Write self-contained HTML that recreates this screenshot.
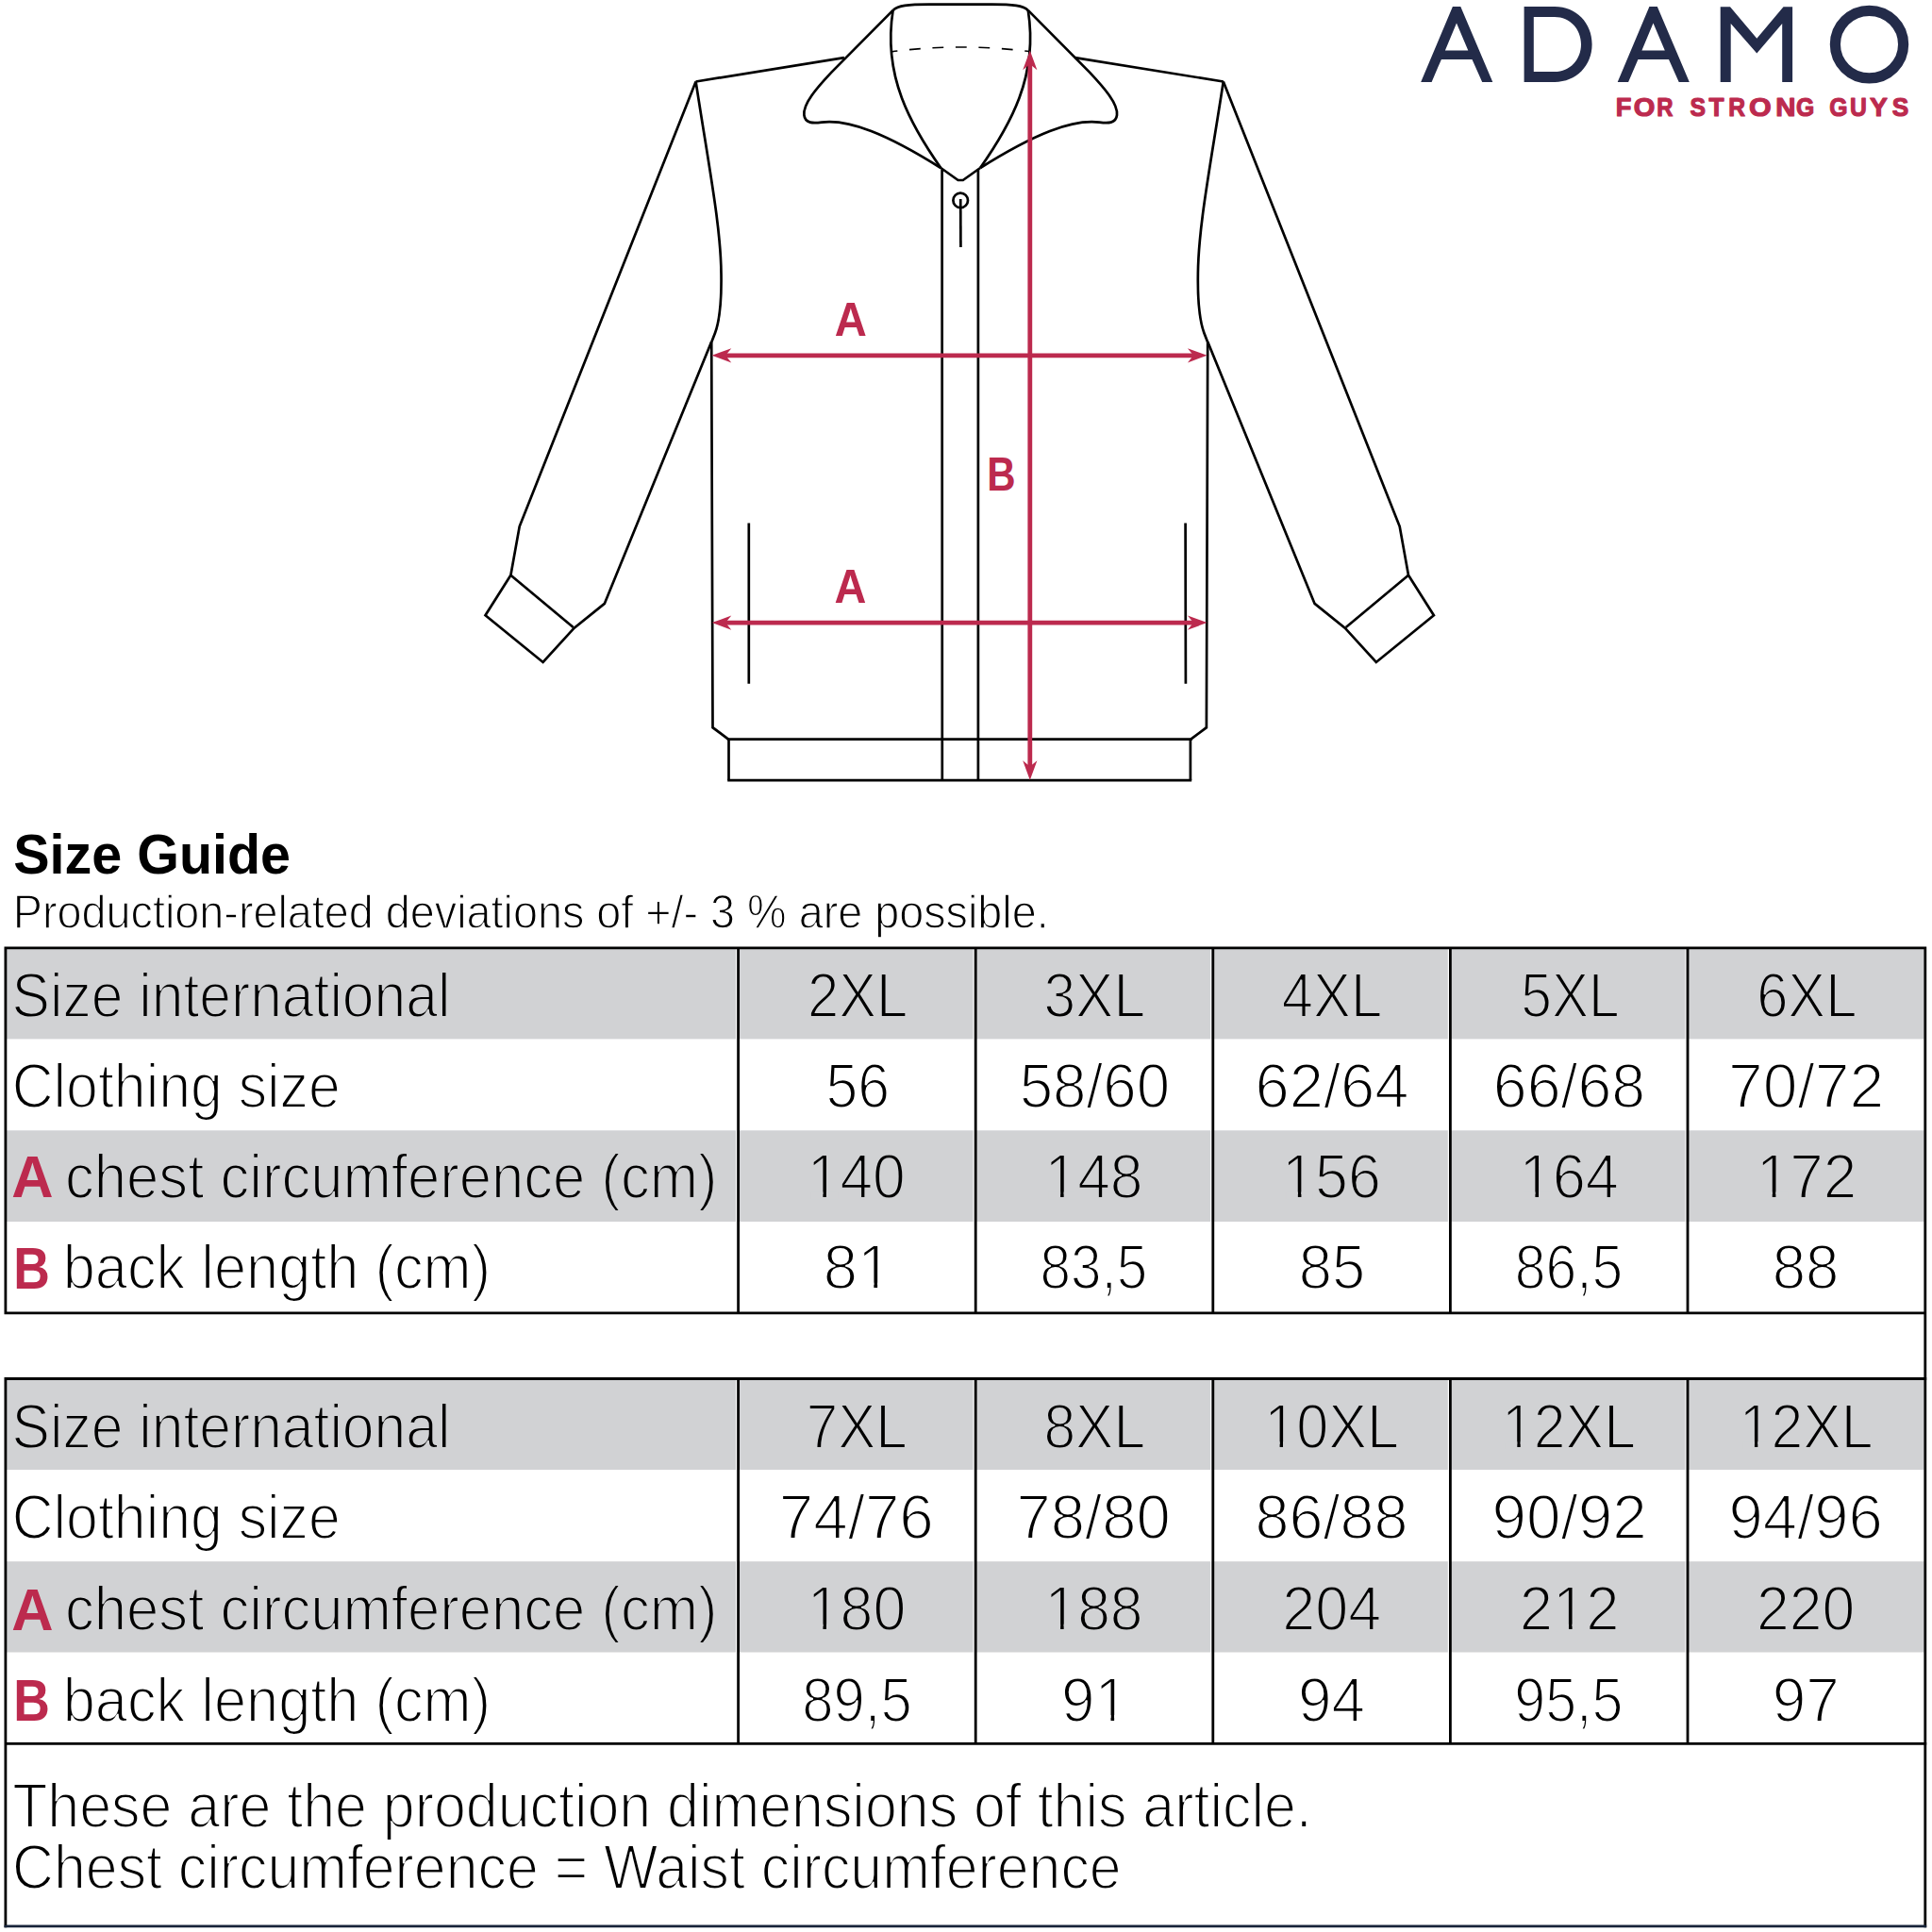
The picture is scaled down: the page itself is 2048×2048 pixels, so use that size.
<!DOCTYPE html>
<html><head><meta charset="utf-8"><style>
html,body{margin:0;padding:0;background:#fff;width:2048px;height:2048px;overflow:hidden}
svg{display:block}
</style></head><body>
<svg width="2048" height="2048" viewBox="0 0 2048 2048">
<rect width="2048" height="2048" fill="#fff"/>
<g fill="none" stroke="#000" stroke-width="2.7" stroke-linejoin="miter" stroke-linecap="butt">

<path d="M894.9,61.1 L737.6,86.5" />
<path d="M737.6,86.5 C752,180 764,240 764.5,290 C765,320 762,342 758,353 L754.4,362.3" />
<path d="M737.6,86.5 L550.7,558.1 L541.4,609.8 L514.5,652.3 L575.6,702 L608.7,665.7 L640.8,639.9 L754.2,362.3" />
<path d="M541.4,609.8 L607.7,665" />
<path d="M754.2,362.3 L755.5,771.2 L772.1,783.6" />
<path d="M772.5,783.6 L772.5,827.1" />

<g transform="translate(2034.4,0) scale(-1,1)">
<path d="M894.9,61.1 L737.6,86.5" />
<path d="M737.6,86.5 C752,180 764,240 764.5,290 C765,320 762,342 758,353 L754.4,362.3" />
<path d="M737.6,86.5 L550.7,558.1 L541.4,609.8 L514.5,652.3 L575.6,702 L608.7,665.7 L640.8,639.9 L754.2,362.3" />
<path d="M541.4,609.8 L607.7,665" />
<path d="M754.2,362.3 L755.5,771.2 L772.1,783.6" />
<path d="M772.5,783.6 L772.5,827.1" />
</g>

<path d="M946.6,10.9 L881.4,76.6 C866,93 851,110 852.4,122 C853.5,131 862,130.8 871,129.6 C900,126 940,142 997.3,178" />
<path d="M946.6,10.9 C942,40 944,72 956,104 C965,128 979,152 997.3,178" />

<g transform="translate(2036.4,0) scale(-1,1)">
<path d="M946.6,10.9 L881.4,76.6 C866,93 851,110 852.4,122 C853.5,131 862,130.8 871,129.6 C900,126 940,142 997.3,178" />
<path d="M946.6,10.9 C942,40 944,72 956,104 C965,128 979,152 997.3,178" />
</g>
<path d="M946.6,10.9 C952,6 962,4.6 985,4.6 L1051.4,4.6 C1074.4,4.6 1084.4,6 1089.8,10.9" /><path d="M997.3,178 L1015.6,191 L1020.8,191 L1039.1,178" stroke-linejoin="round" />
<path d="M998.6,180 L998.8,827.1 M1036.9,180 L1036.9,827.1" />
<path d="M770.8,783.6 L1263.6,783.6 M771.2,827.1 L1263.2,827.1" />
<circle cx="1018.2" cy="212.4" r="7.8" /><path d="M1018.2,211 L1018.4,262" />
<path d="M793.8,554.5 L793.8,724.8 M1256.6,554.5 L1256.9,724.8" />
<path d="M945.8,54.7 Q1019,45.3 1092.2,54.7" stroke-dasharray="11.8 12.7" stroke-dashoffset="6.2" stroke-width="1.6"/>
</g>
<g stroke="#BC2A4E" stroke-width="4.8" fill="none">
<path d="M1091.8,66 L1091.8,815" />
<path d="M767,376.8 L1267,376.8" />
<path d="M767,660.1 L1267,660.1" />
</g>
<path d="M1091.8,53.6 L1099.4,74.3 L1091.8,68.1 L1084.2,74.3 Z" fill="#BC2A4E" stroke="none"/>
<path d="M1091.8,827.0 L1084.2,806.3 L1091.8,812.5 L1099.4,806.3 Z" fill="#BC2A4E" stroke="none"/>
<path d="M754.6,376.8 L775.3,369.2 L769.1,376.8 L775.3,384.4 Z" fill="#BC2A4E" stroke="none"/>
<path d="M1279.6,376.8 L1258.9,384.4 L1265.1,376.8 L1258.9,369.2 Z" fill="#BC2A4E" stroke="none"/>
<path d="M754.6,660.1 L775.3,652.5 L769.1,660.1 L775.3,667.7 Z" fill="#BC2A4E" stroke="none"/>
<path d="M1279.6,660.1 L1258.9,667.7 L1265.1,660.1 L1258.9,652.5 Z" fill="#BC2A4E" stroke="none"/>
<path d="M1506.2,86.9 L1539.9,7.1 L1548.3,7.1 L1582.3,86.9 L1571.2,86.9 L1560.5,62.9 L1527.9,62.9 L1517.6,86.9 Z M1544,24.6 L1556.3,53.4 L1531.9,53.4 Z" fill="#232B49" fill-rule="evenodd"/>
<path d="M1714.7,86.9 L1748.4,7.1 L1756.8,7.1 L1790.8,86.9 L1779.7,86.9 L1769.0,62.9 L1736.4,62.9 L1726.1,86.9 Z M1752.5,24.6 L1764.8,53.4 L1740.4,53.4 Z" fill="#232B49" fill-rule="evenodd"/>
<path d="M1615.6,7.1 H1648 C1671,7.1 1687.6,24.5 1687.6,47 C1687.6,69.5 1671,86.9 1648,86.9 H1615.6 Z M1625.8,18 H1648 C1664.5,18 1676,31 1676,47 C1676,63 1664.5,76.1 1648,76.1 H1625.8 Z" fill="#232B49" fill-rule="evenodd"/>
<path d="M1823.7,86.9 L1823.7,7.3 L1834,7.3 L1862.3,40.8 L1890.5,7.3 L1900.1,7.3 L1900.1,86.9 L1889.2,86.9 L1889.2,25 L1862.3,56.5 L1834.7,25 L1834.7,86.9 Z" fill="#232B49"/>
<ellipse cx="1981.5" cy="47.1" rx="36.1" ry="35.8" fill="none" stroke="#232B49" stroke-width="11.2"/>
<rect x="7" y="1006" width="2032.5" height="95.4" fill="#D1D2D4"/>
<rect x="7" y="1198.3" width="2032.5" height="96.7" fill="#D1D2D4"/>
<rect x="7" y="1462.8" width="2032.5" height="95.2" fill="#D1D2D4"/>
<rect x="7" y="1655.2" width="2032.5" height="96.3" fill="#D1D2D4"/>
<g stroke="#fff" stroke-width="1.2">
<path d="M780.6,1004.9 L780.6,1391.8 M780.6,1461.5 L780.6,1848.3" />
<path d="M1032.2,1004.9 L1032.2,1391.8 M1032.2,1461.5 L1032.2,1848.3" />
<path d="M1283.8,1004.9 L1283.8,1391.8 M1283.8,1461.5 L1283.8,1848.3" />
<path d="M1535.4,1004.9 L1535.4,1391.8 M1535.4,1461.5 L1535.4,1848.3" />
<path d="M1787.0,1004.9 L1787.0,1391.8 M1787.0,1461.5 L1787.0,1848.3" />
</g>
<g stroke="#000" stroke-width="2.8" fill="none">
<path d="M4.6,1004.9 L2042.2,1004.9 M5.9,1003.5 L5.9,1393.2 M4.6,1391.8 L2042.2,1391.8 M2040.8,1003.5 L2040.8,2043.2" />
<path d="M4.6,1461.5 L2042.2,1461.5 M5.9,1460.1 L5.9,2043.2 M4.6,1848.3 L2042.2,1848.3" />
<path d="M782.6,1004.9 L782.6,1391.8 M782.6,1461.5 L782.6,1848.3" />
<path d="M1034.2,1004.9 L1034.2,1391.8 M1034.2,1461.5 L1034.2,1848.3" />
<path d="M1285.8,1004.9 L1285.8,1391.8 M1285.8,1461.5 L1285.8,1848.3" />
<path d="M1537.4,1004.9 L1537.4,1391.8 M1537.4,1461.5 L1537.4,1848.3" />
<path d="M1789.0,1004.9 L1789.0,1391.8 M1789.0,1461.5 L1789.0,1848.3" />
</g>
<path d="M4.6,2041.8 L2042.2,2041.8" stroke="#18243a" stroke-width="2.8"/>
<text x="12.59" y="1078.2" font-family="Liberation Sans" font-size="67" font-weight="400" fill="#000" stroke="#D1D2D4" stroke-width="2.0" textLength="464.82" lengthAdjust="spacingAndGlyphs">Size international</text>
<text x="12.68" y="1173.9" font-family="Liberation Sans" font-size="67" font-weight="400" fill="#000" stroke="#fff" stroke-width="2.0" textLength="348.19" lengthAdjust="spacingAndGlyphs">Clothing size</text>
<text x="12.35" y="1269.4" font-family="Liberation Sans" font-size="63" font-weight="700" fill="#BC2A4E" textLength="44.31" lengthAdjust="spacingAndGlyphs">A</text>
<text x="69.04" y="1270.2" font-family="Liberation Sans" font-size="67" font-weight="400" fill="#000" stroke="#D1D2D4" stroke-width="2.0" textLength="691.49" lengthAdjust="spacingAndGlyphs">chest circumference (cm)</text>
<text x="14.21" y="1365.6000000000001" font-family="Liberation Sans" font-size="63" font-weight="700" fill="#BC2A4E" textLength="38.62" lengthAdjust="spacingAndGlyphs">B</text>
<text x="66.74" y="1366.4" font-family="Liberation Sans" font-size="67" font-weight="400" fill="#000" stroke="#fff" stroke-width="2.0" textLength="453.35" lengthAdjust="spacingAndGlyphs">back length (cm)</text>
<text x="12.59" y="1534.9" font-family="Liberation Sans" font-size="67" font-weight="400" fill="#000" stroke="#D1D2D4" stroke-width="2.0" textLength="464.82" lengthAdjust="spacingAndGlyphs">Size international</text>
<text x="12.68" y="1631.2" font-family="Liberation Sans" font-size="67" font-weight="400" fill="#000" stroke="#fff" stroke-width="2.0" textLength="348.19" lengthAdjust="spacingAndGlyphs">Clothing size</text>
<text x="12.35" y="1727.6000000000001" font-family="Liberation Sans" font-size="63" font-weight="700" fill="#BC2A4E" textLength="44.31" lengthAdjust="spacingAndGlyphs">A</text>
<text x="69.04" y="1728.4" font-family="Liberation Sans" font-size="67" font-weight="400" fill="#000" stroke="#D1D2D4" stroke-width="2.0" textLength="691.49" lengthAdjust="spacingAndGlyphs">chest circumference (cm)</text>
<text x="14.21" y="1823.9" font-family="Liberation Sans" font-size="63" font-weight="700" fill="#BC2A4E" textLength="38.62" lengthAdjust="spacingAndGlyphs">B</text>
<text x="66.74" y="1824.7" font-family="Liberation Sans" font-size="67" font-weight="400" fill="#000" stroke="#fff" stroke-width="2.0" textLength="453.35" lengthAdjust="spacingAndGlyphs">back length (cm)</text>
<text x="856.03" y="1078.2" font-family="Liberation Sans" font-size="67" font-weight="400" fill="#000" stroke="#D1D2D4" stroke-width="2.0" textLength="106.25" lengthAdjust="spacingAndGlyphs">2XL</text>
<text x="1106.39" y="1078.2" font-family="Liberation Sans" font-size="67" font-weight="400" fill="#000" stroke="#D1D2D4" stroke-width="2.0" textLength="107.72" lengthAdjust="spacingAndGlyphs">3XL</text>
<text x="1358.81" y="1078.2" font-family="Liberation Sans" font-size="67" font-weight="400" fill="#000" stroke="#D1D2D4" stroke-width="2.0" textLength="106.47" lengthAdjust="spacingAndGlyphs">4XL</text>
<text x="1612.27" y="1078.2" font-family="Liberation Sans" font-size="67" font-weight="400" fill="#000" stroke="#D1D2D4" stroke-width="2.0" textLength="104.47" lengthAdjust="spacingAndGlyphs">5XL</text>
<text x="1862.13" y="1078.2" font-family="Liberation Sans" font-size="67" font-weight="400" fill="#000" stroke="#D1D2D4" stroke-width="2.0" textLength="106.25" lengthAdjust="spacingAndGlyphs">6XL</text>
<text x="875.48" y="1173.9" font-family="Liberation Sans" font-size="67" font-weight="400" fill="#000" stroke="#fff" stroke-width="2.0" textLength="67.62" lengthAdjust="spacingAndGlyphs">56</text>
<text x="1080.65" y="1173.9" font-family="Liberation Sans" font-size="67" font-weight="400" fill="#000" stroke="#fff" stroke-width="2.0" textLength="159.50" lengthAdjust="spacingAndGlyphs">58/60</text>
<text x="1330.48" y="1173.9" font-family="Liberation Sans" font-size="67" font-weight="400" fill="#000" stroke="#fff" stroke-width="2.0" textLength="163.15" lengthAdjust="spacingAndGlyphs">62/64</text>
<text x="1582.81" y="1173.9" font-family="Liberation Sans" font-size="67" font-weight="400" fill="#000" stroke="#fff" stroke-width="2.0" textLength="161.36" lengthAdjust="spacingAndGlyphs">66/68</text>
<text x="1832.04" y="1173.9" font-family="Liberation Sans" font-size="67" font-weight="400" fill="#000" stroke="#fff" stroke-width="2.0" textLength="165.17" lengthAdjust="spacingAndGlyphs">70/72</text>
<text x="855.71" y="1270.2" font-family="Liberation Sans" font-size="67" font-weight="400" fill="#000" stroke="#D1D2D4" stroke-width="2.0" textLength="104.09" lengthAdjust="spacingAndGlyphs">140</text><rect x="859.98" y="1263.47" width="12.42" height="8.23" fill="#D1D2D4"/><rect x="875.91" y="1263.47" width="11.94" height="8.23" fill="#D1D2D4"/>
<text x="1107.41" y="1270.2" font-family="Liberation Sans" font-size="67" font-weight="400" fill="#000" stroke="#D1D2D4" stroke-width="2.0" textLength="104.20" lengthAdjust="spacingAndGlyphs">148</text><rect x="1111.68" y="1263.47" width="12.43" height="8.23" fill="#D1D2D4"/><rect x="1127.63" y="1263.47" width="11.95" height="8.23" fill="#D1D2D4"/>
<text x="1359.08" y="1270.2" font-family="Liberation Sans" font-size="67" font-weight="400" fill="#000" stroke="#D1D2D4" stroke-width="2.0" textLength="104.74" lengthAdjust="spacingAndGlyphs">156</text><rect x="1363.37" y="1263.47" width="12.49" height="8.23" fill="#D1D2D4"/><rect x="1379.41" y="1263.47" width="12.00" height="8.23" fill="#D1D2D4"/>
<text x="1610.54" y="1270.2" font-family="Liberation Sans" font-size="67" font-weight="400" fill="#000" stroke="#D1D2D4" stroke-width="2.0" textLength="105.45" lengthAdjust="spacingAndGlyphs">164</text><rect x="1614.86" y="1263.47" width="12.57" height="8.23" fill="#D1D2D4"/><rect x="1631.02" y="1263.47" width="12.08" height="8.23" fill="#D1D2D4"/>
<text x="1861.68" y="1270.2" font-family="Liberation Sans" font-size="67" font-weight="400" fill="#000" stroke="#D1D2D4" stroke-width="2.0" textLength="106.54" lengthAdjust="spacingAndGlyphs">172</text><rect x="1866.05" y="1263.47" width="12.69" height="8.23" fill="#D1D2D4"/><rect x="1882.38" y="1263.47" width="12.19" height="8.23" fill="#D1D2D4"/>
<text x="872.68" y="1366.4" font-family="Liberation Sans" font-size="67" font-weight="400" fill="#000" stroke="#fff" stroke-width="2.0" textLength="72.57" lengthAdjust="spacingAndGlyphs">81</text><rect x="913.41" y="1359.67" width="12.95" height="8.23" fill="#fff"/><rect x="930.12" y="1359.67" width="12.44" height="8.23" fill="#fff"/>
<text x="1102.58" y="1366.4" font-family="Liberation Sans" font-size="67" font-weight="400" fill="#000" stroke="#fff" stroke-width="2.0" textLength="113.71" lengthAdjust="spacingAndGlyphs">83,5</text>
<text x="1376.77" y="1366.4" font-family="Liberation Sans" font-size="67" font-weight="400" fill="#000" stroke="#fff" stroke-width="2.0" textLength="70.43" lengthAdjust="spacingAndGlyphs">85</text>
<text x="1605.76" y="1366.4" font-family="Liberation Sans" font-size="67" font-weight="400" fill="#000" stroke="#fff" stroke-width="2.0" textLength="114.55" lengthAdjust="spacingAndGlyphs">86,5</text>
<text x="1878.76" y="1366.4" font-family="Liberation Sans" font-size="67" font-weight="400" fill="#000" stroke="#fff" stroke-width="2.0" textLength="70.64" lengthAdjust="spacingAndGlyphs">88</text>
<text x="854.71" y="1534.9" font-family="Liberation Sans" font-size="67" font-weight="400" fill="#000" stroke="#D1D2D4" stroke-width="2.0" textLength="107.09" lengthAdjust="spacingAndGlyphs">7XL</text>
<text x="1106.39" y="1534.9" font-family="Liberation Sans" font-size="67" font-weight="400" fill="#000" stroke="#D1D2D4" stroke-width="2.0" textLength="107.72" lengthAdjust="spacingAndGlyphs">8XL</text>
<text x="1340.22" y="1534.9" font-family="Liberation Sans" font-size="67" font-weight="400" fill="#000" stroke="#D1D2D4" stroke-width="2.0" textLength="142.84" lengthAdjust="spacingAndGlyphs">10XL</text><rect x="1344.40" y="1528.17" width="12.20" height="8.23" fill="#D1D2D4"/><rect x="1360.01" y="1528.17" width="11.72" height="8.23" fill="#D1D2D4"/>
<text x="1592.06" y="1534.9" font-family="Liberation Sans" font-size="67" font-weight="400" fill="#000" stroke="#D1D2D4" stroke-width="2.0" textLength="141.89" lengthAdjust="spacingAndGlyphs">12XL</text><rect x="1596.21" y="1528.17" width="12.12" height="8.23" fill="#D1D2D4"/><rect x="1611.71" y="1528.17" width="11.65" height="8.23" fill="#D1D2D4"/>
<text x="1843.66" y="1534.9" font-family="Liberation Sans" font-size="67" font-weight="400" fill="#000" stroke="#D1D2D4" stroke-width="2.0" textLength="141.89" lengthAdjust="spacingAndGlyphs">12XL</text><rect x="1847.81" y="1528.17" width="12.12" height="8.23" fill="#D1D2D4"/><rect x="1863.31" y="1528.17" width="11.65" height="8.23" fill="#D1D2D4"/>
<text x="825.76" y="1631.2" font-family="Liberation Sans" font-size="67" font-weight="400" fill="#000" stroke="#fff" stroke-width="2.0" textLength="164.05" lengthAdjust="spacingAndGlyphs">74/76</text>
<text x="1077.48" y="1631.2" font-family="Liberation Sans" font-size="67" font-weight="400" fill="#000" stroke="#fff" stroke-width="2.0" textLength="163.32" lengthAdjust="spacingAndGlyphs">78/80</text>
<text x="1330.50" y="1631.2" font-family="Liberation Sans" font-size="67" font-weight="400" fill="#000" stroke="#fff" stroke-width="2.0" textLength="161.98" lengthAdjust="spacingAndGlyphs">86/88</text>
<text x="1581.46" y="1631.2" font-family="Liberation Sans" font-size="67" font-weight="400" fill="#000" stroke="#fff" stroke-width="2.0" textLength="164.34" lengthAdjust="spacingAndGlyphs">90/92</text>
<text x="1832.48" y="1631.2" font-family="Liberation Sans" font-size="67" font-weight="400" fill="#000" stroke="#fff" stroke-width="2.0" textLength="163.32" lengthAdjust="spacingAndGlyphs">94/96</text>
<text x="855.68" y="1728.4" font-family="Liberation Sans" font-size="67" font-weight="400" fill="#000" stroke="#D1D2D4" stroke-width="2.0" textLength="104.63" lengthAdjust="spacingAndGlyphs">180</text><rect x="859.97" y="1721.67" width="12.48" height="8.23" fill="#D1D2D4"/><rect x="875.99" y="1721.67" width="11.99" height="8.23" fill="#D1D2D4"/>
<text x="1107.41" y="1728.4" font-family="Liberation Sans" font-size="67" font-weight="400" fill="#000" stroke="#D1D2D4" stroke-width="2.0" textLength="104.20" lengthAdjust="spacingAndGlyphs">188</text><rect x="1111.68" y="1721.67" width="12.43" height="8.23" fill="#D1D2D4"/><rect x="1127.63" y="1721.67" width="11.95" height="8.23" fill="#D1D2D4"/>
<text x="1359.29" y="1728.4" font-family="Liberation Sans" font-size="67" font-weight="400" fill="#000" stroke="#D1D2D4" stroke-width="2.0" textLength="104.90" lengthAdjust="spacingAndGlyphs">204</text>
<text x="1610.76" y="1728.4" font-family="Liberation Sans" font-size="67" font-weight="400" fill="#000" stroke="#D1D2D4" stroke-width="2.0" textLength="105.83" lengthAdjust="spacingAndGlyphs">212</text><rect x="1650.36" y="1721.67" width="12.61" height="8.23" fill="#D1D2D4"/><rect x="1666.58" y="1721.67" width="12.12" height="8.23" fill="#D1D2D4"/>
<text x="1862.10" y="1728.4" font-family="Liberation Sans" font-size="67" font-weight="400" fill="#000" stroke="#D1D2D4" stroke-width="2.0" textLength="104.20" lengthAdjust="spacingAndGlyphs">220</text>
<text x="850.22" y="1824.7" font-family="Liberation Sans" font-size="67" font-weight="400" fill="#000" stroke="#fff" stroke-width="2.0" textLength="116.43" lengthAdjust="spacingAndGlyphs">89,5</text>
<text x="1125.05" y="1824.7" font-family="Liberation Sans" font-size="67" font-weight="400" fill="#000" stroke="#fff" stroke-width="2.0" textLength="70.87" lengthAdjust="spacingAndGlyphs">91</text><rect x="1164.82" y="1817.97" width="12.67" height="8.23" fill="#fff"/><rect x="1181.12" y="1817.97" width="12.17" height="8.23" fill="#fff"/>
<text x="1375.94" y="1824.7" font-family="Liberation Sans" font-size="67" font-weight="400" fill="#000" stroke="#fff" stroke-width="2.0" textLength="71.02" lengthAdjust="spacingAndGlyphs">94</text>
<text x="1605.25" y="1824.7" font-family="Liberation Sans" font-size="67" font-weight="400" fill="#000" stroke="#fff" stroke-width="2.0" textLength="115.07" lengthAdjust="spacingAndGlyphs">95,5</text>
<text x="1878.74" y="1824.7" font-family="Liberation Sans" font-size="67" font-weight="400" fill="#000" stroke="#fff" stroke-width="2.0" textLength="71.13" lengthAdjust="spacingAndGlyphs">97</text>
<text x="14.18" y="926.3" font-family="Liberation Sans" font-size="60" font-weight="700" fill="#000" textLength="293.89" lengthAdjust="spacingAndGlyphs">Size Guide</text>
<text x="13.85" y="984.3" font-family="Liberation Sans" font-size="50.5" font-weight="400" fill="#000" stroke="#fff" stroke-width="1.3" textLength="1097.85" lengthAdjust="spacingAndGlyphs">Production-related deviations of +/- 3 % are possible.</text>
<text x="13.18" y="1936.6" font-family="Liberation Sans" font-size="67" font-weight="400" fill="#000" stroke="#fff" stroke-width="2.0" textLength="1377.54" lengthAdjust="spacingAndGlyphs">These are the production dimensions of this article.</text>
<text x="13.08" y="2001.8" font-family="Liberation Sans" font-size="67" font-weight="400" fill="#000" stroke="#fff" stroke-width="2.0" textLength="1175.56" lengthAdjust="spacingAndGlyphs">Chest circumference = Waist circumference</text>
<text x="884.66" y="356.1" font-family="Liberation Sans" font-size="50" font-weight="700" fill="#BC2A4E" textLength="34.09" lengthAdjust="spacingAndGlyphs">A</text>
<text x="884.56" y="639.3" font-family="Liberation Sans" font-size="50" font-weight="700" fill="#BC2A4E" textLength="33.88" lengthAdjust="spacingAndGlyphs">A</text>
<text x="1046.30" y="519.9" font-family="Liberation Sans" font-size="50.5" font-weight="700" fill="#BC2A4E" textLength="30.36" lengthAdjust="spacingAndGlyphs">B</text>
<text x="1712.66" y="122.9" font-family="Liberation Sans" font-size="28" font-weight="700" fill="#BC2A4E" stroke="#BC2A4E" stroke-width="1.2" stroke-linejoin="round" textLength="16.62" lengthAdjust="spacingAndGlyphs">F</text>
<text x="1731.66" y="122.9" font-family="Liberation Sans" font-size="28" font-weight="700" fill="#BC2A4E" stroke="#BC2A4E" stroke-width="1.2" stroke-linejoin="round" textLength="22.54" lengthAdjust="spacingAndGlyphs">O</text>
<text x="1756.19" y="122.9" font-family="Liberation Sans" font-size="28" font-weight="700" fill="#BC2A4E" stroke="#BC2A4E" stroke-width="1.2" stroke-linejoin="round" textLength="17.26" lengthAdjust="spacingAndGlyphs">R</text>
<text x="1791.62" y="122.9" font-family="Liberation Sans" font-size="28" font-weight="700" fill="#BC2A4E" stroke="#BC2A4E" stroke-width="1.2" stroke-linejoin="round" textLength="16.49" lengthAdjust="spacingAndGlyphs">S</text>
<text x="1811.40" y="122.9" font-family="Liberation Sans" font-size="28" font-weight="700" fill="#BC2A4E" stroke="#BC2A4E" stroke-width="1.2" stroke-linejoin="round" textLength="16.00" lengthAdjust="spacingAndGlyphs">T</text>
<text x="1832.14" y="122.9" font-family="Liberation Sans" font-size="28" font-weight="700" fill="#BC2A4E" stroke="#BC2A4E" stroke-width="1.2" stroke-linejoin="round" textLength="17.85" lengthAdjust="spacingAndGlyphs">R</text>
<text x="1854.01" y="122.9" font-family="Liberation Sans" font-size="28" font-weight="700" fill="#BC2A4E" stroke="#BC2A4E" stroke-width="1.2" stroke-linejoin="round" textLength="23.63" lengthAdjust="spacingAndGlyphs">O</text>
<text x="1882.20" y="122.9" font-family="Liberation Sans" font-size="28" font-weight="700" fill="#BC2A4E" stroke="#BC2A4E" stroke-width="1.2" stroke-linejoin="round" textLength="21.25" lengthAdjust="spacingAndGlyphs">N</text>
<text x="1904.12" y="122.9" font-family="Liberation Sans" font-size="28" font-weight="700" fill="#BC2A4E" stroke="#BC2A4E" stroke-width="1.2" stroke-linejoin="round" textLength="19.26" lengthAdjust="spacingAndGlyphs">G</text>
<text x="1939.32" y="122.9" font-family="Liberation Sans" font-size="28" font-weight="700" fill="#BC2A4E" stroke="#BC2A4E" stroke-width="1.2" stroke-linejoin="round" textLength="19.26" lengthAdjust="spacingAndGlyphs">G</text>
<text x="1960.94" y="122.9" font-family="Liberation Sans" font-size="28" font-weight="700" fill="#BC2A4E" stroke="#BC2A4E" stroke-width="1.2" stroke-linejoin="round" textLength="17.85" lengthAdjust="spacingAndGlyphs">U</text>
<text x="1981.99" y="122.9" font-family="Liberation Sans" font-size="28" font-weight="700" fill="#BC2A4E" stroke="#BC2A4E" stroke-width="1.2" stroke-linejoin="round" textLength="18.91" lengthAdjust="spacingAndGlyphs">Y</text>
<text x="2005.86" y="122.9" font-family="Liberation Sans" font-size="28" font-weight="700" fill="#BC2A4E" stroke="#BC2A4E" stroke-width="1.2" stroke-linejoin="round" textLength="17.48" lengthAdjust="spacingAndGlyphs">S</text>
</svg>
</body></html>
